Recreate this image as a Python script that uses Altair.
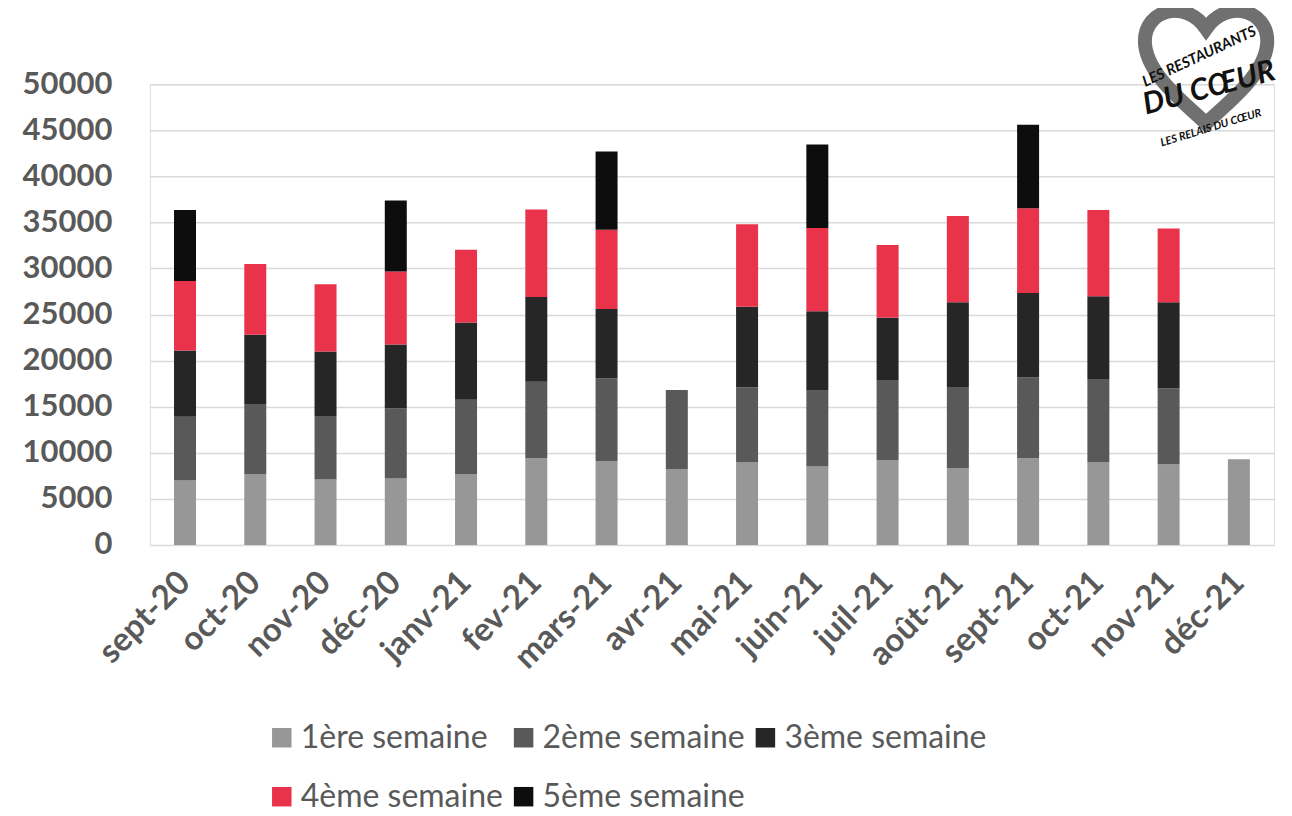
import altair as alt
import pandas as pd

months = ["sept-20", "oct-20", "nov-20", "déc-20", "janv-21", "fev-21", "mars-21", "avr-21",
          "mai-21", "juin-21", "juil-21", "août-21", "sept-21", "oct-21", "nov-21", "déc-21"]
series = ["1ère semaine", "2ème semaine", "3ème semaine", "4ème semaine", "5ème semaine"]
colors = ["#979797", "#595959", "#262626", "#E8334A", "#0D0D0D"]

sem1 = [7000, 7700, 7100, 7200, 7700, 9400, 9100, 8250, 9000, 8500, 9200, 8350, 9400, 9000, 8750, 9300]
sem2 = [6900, 7600, 6900, 7600, 8050, 8300, 9000, 8550, 8100, 8300, 8700, 8800, 8800, 9000, 8250, 0]
sem3 = [7200, 7500, 7000, 6950, 8400, 9200, 7500, 0, 8750, 8550, 6750, 9200, 9150, 9000, 9350, 0]
sem4 = [7550, 7700, 7300, 7930, 7900, 9500, 8600, 0, 8950, 9050, 7900, 9350, 9200, 9350, 8000, 0]
sem5 = [7700, 0, 0, 7700, 0, 0, 8500, 0, 0, 9050, 0, 0, 9050, 0, 0, 0]

rows = []
for si, (name, vals) in enumerate(zip(series, [sem1, sem2, sem3, sem4, sem5])):
    for m, v in zip(months, vals):
        if v > 0:
            rows.append({"mois": m, "semaine": name, "ordre": si, "valeur": v})
df = pd.DataFrame(rows)

FONT = "Lato"
AX = "#595959"

bars = alt.Chart(df).mark_bar(size=22).encode(
    x=alt.X("mois:N", sort=months, title=None,
            scale=alt.Scale(paddingInner=0, paddingOuter=0),
            axis=alt.Axis(labelAngle=-45, labelFont=FONT, labelFontSize=33, labelFontWeight="bold",
                          labelColor=AX, labelPadding=32, ticks=False, domain=False, grid=False,
                          labelAlign="right", labelBaseline="middle")),
    y=alt.Y("valeur:Q", stack="zero", title=None,
            scale=alt.Scale(domain=[0, 50000]),
            axis=alt.Axis(values=list(range(0, 50001, 5000)), format="d", labelFont=FONT,
                          labelFontSize=31, labelFontWeight="bold", labelColor=AX, labelPadding=38,
                          ticks=False, domain=False, gridColor="#D9D9D9", gridWidth=1.5)),
    color=alt.Color("semaine:N", sort=series,
                    scale=alt.Scale(domain=series, range=colors),
                    legend=alt.Legend(title=None, orient="none", legendX=116, legendY=638,
                                      direction="horizontal", columns=3, symbolType="square",
                                      symbolSize=380, symbolStrokeWidth=0, labelFont=FONT,
                                      labelFontSize=32, labelColor=AX, rowPadding=27,
                                      columnPadding=4, labelOffset=3, labelLimit=400)),
    order=alt.Order("ordre:Q", sort="ascending"),
)

# decorative logo (top right)
HEART = ("M0,1 C-0.3,0.7 -1,0.2 -1,-0.35 C-1,-0.85 -0.35,-1.05 0,-0.55 "
         "C0.35,-1.05 1,-0.85 1,-0.35 C1,0.2 0.3,0.7 0,1 Z")
heart = alt.Chart(pd.DataFrame({"h": [1]})).mark_point(
    shape=HEART, size=15000, filled=False, stroke="#707070", strokeWidth=14, opacity=1
).encode(x=alt.value(1057), y=alt.value(-22))

logo_txt = pd.DataFrame({
    "t": ["LES RESTAURANTS", "DU CŒUR", "LES RELAIS DU CŒUR"],
    "x": [1050, 1060, 1062],
    "y": [-28, 4, 44],
    "s": [15, 30, 11],
    "a": [335, 345, 343],
})
logo = alt.Chart(logo_txt).mark_text(font=FONT, fontWeight="bold", fontStyle="italic",
                                     color="#111111").encode(
    text="t:N", x=alt.X("x:Q", scale=None), y=alt.Y("y:Q", scale=None),
    size=alt.Size("s:Q", scale=None, legend=None),
    angle=alt.Angle("a:Q", scale=None),
)

chart = alt.layer(bars, heart, logo).properties(
    width=1125, height=461,
    autosize=alt.AutoSizeParams(type="none"),
    padding={"left": 142, "top": 76, "right": 10, "bottom": 270},
).configure_view(stroke=None).configure(background="white")

chart.save("out.html", embed_options={"renderer": "svg", "actions": False})
